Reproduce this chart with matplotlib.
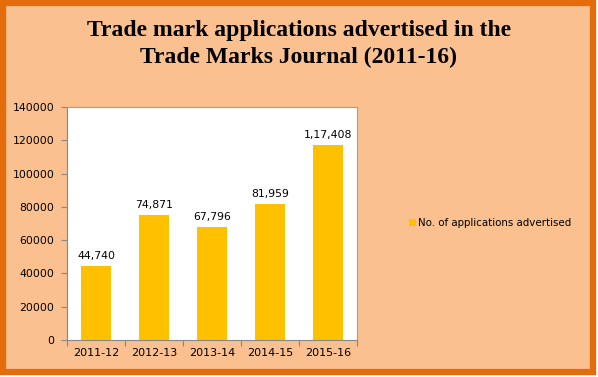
import matplotlib
matplotlib.use("Agg")
import matplotlib.pyplot as plt
from matplotlib.patches import Rectangle

categories = ["2011-12", "2012-13", "2013-14", "2014-15", "2015-16"]
values = [44740, 74871, 67796, 81959, 117408]
labels = ["44,740", "74,871", "67,796", "81,959", "1,17,408"]
series_name = "No. of applications advertised"
title = "Trade mark applications advertised in the\nTrade Marks Journal (2011-16)"

W, H = 598, 377
fig = plt.figure(figsize=(W / 100, H / 100), dpi=100)
bg = "#FAC090"
fig.patch.set_facecolor("white")
# peach panel with orange frame
fig.patches.append(Rectangle((3 / W, 1 - 372 / H), 590 / W, 369.5 / H,
                             transform=fig.transFigure, facecolor=bg,
                             edgecolor="#E46C0A", linewidth=4.5, zorder=-10))

ax = fig.add_axes([67 / W, 1 - 340 / H, (357 - 67) / W, (340 - 107) / H])
ax.set_zorder(1)
ax.set_facecolor("white")
x = list(range(len(categories)))
bars = ax.bar(x, values, width=0.52, color="#FFC000", label=series_name, zorder=2)
ax.set_xlim(-0.5, len(categories) - 0.5)
ax.set_ylim(0, 140000)
ax.set_yticks(range(0, 140001, 20000))
ax.set_xticks([i - 0.5 for i in range(len(categories) + 1)], minor=False)
ax.set_xticklabels([])
ax.set_xticks(x, minor=True)
ax.set_xticklabels(categories, minor=True)
ax.tick_params(axis="x", which="major", length=4, color="#888888", direction="out")
ax.tick_params(axis="x", which="minor", length=0, labelsize=8, pad=6, colors="black")
ax.tick_params(axis="y", length=4, color="#888888", labelsize=7.8, pad=5, colors="black")
for s in ["left", "bottom"]:
    ax.spines[s].set_color("#888888")
for s in ["top", "right"]:
    ax.spines[s].set_color("#D89060")
    ax.spines[s].set_linewidth(0.8)

for xi, v, lab in zip(x, values, labels):
    ax.text(xi, v + 3000, lab, ha="center", va="bottom", fontsize=7.8)

fig.text(0.5, 1 - 44 / H, title, ha="center", va="center",
         fontsize=17, fontweight="bold", family="Liberation Serif", linespacing=1.4)

leg = fig.legend(handles=[bars], labels=[series_name], loc="center left",
                 bbox_to_anchor=(400 / W, 1 - 223 / H), frameon=False,
                 fontsize=7.4, handlelength=0.7, handleheight=0.7, handletextpad=0.2)

fig.savefig("out.png", dpi=100, facecolor=fig.get_facecolor())
